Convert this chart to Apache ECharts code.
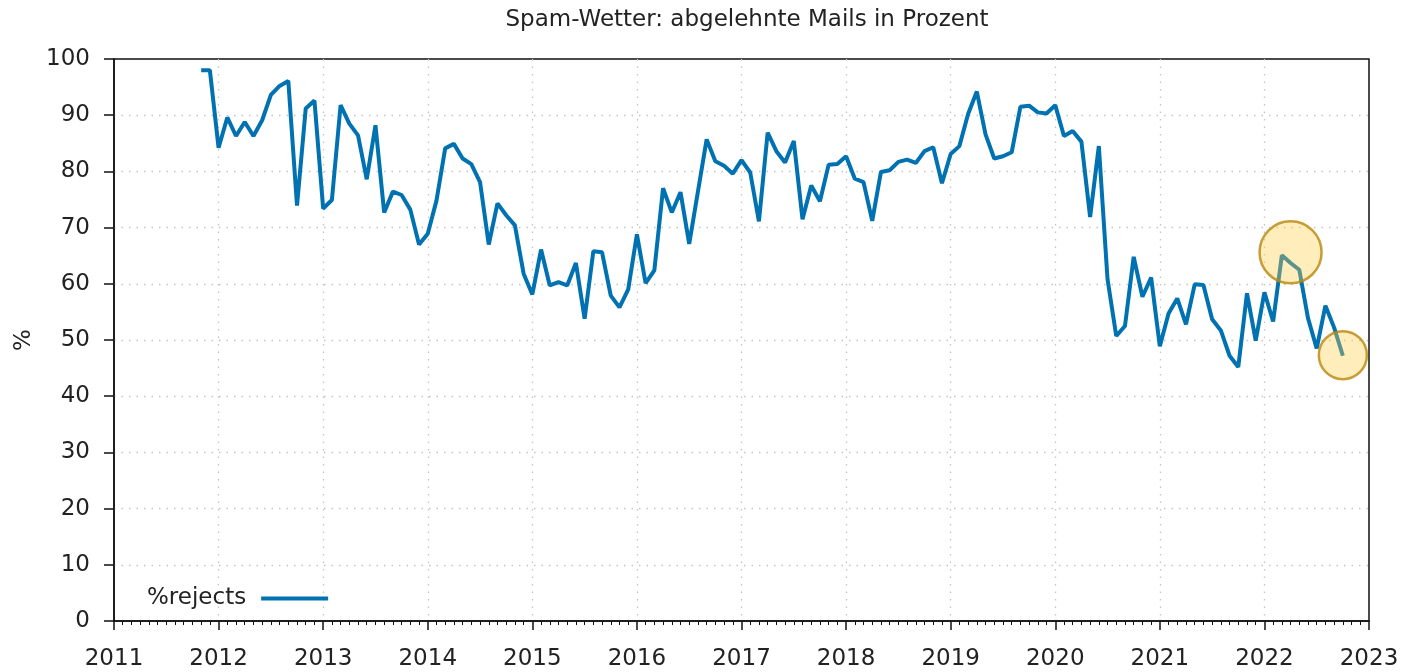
<!DOCTYPE html>
<html>
<head>
<meta charset="utf-8">
<script src="https://cdn.jsdelivr.net/npm/echarts@6/dist/echarts.min.js"></script>
<style>
  html, body { margin: 0; padding: 0; background: #fff; }
  #chart { width: 1404px; height: 672px; }
</style>
</head>
<body>
<div id="chart"></div>
<script>
// ---- data ----
const chartTitle = 'Spam-Wetter: abgelehnte Mails in Prozent';
const seriesName = '%rejects';
const yAxisName = '%';
const firstYear = 2011;
const firstMonth = 11; // November 2011
// monthly rejection percentages, Nov 2011 .. Oct 2022
const rejects = [
  98.0, 98.0,
  84.2, 89.6, 86.3, 88.8, 86.3, 89.1, 93.6, 95.2, 96.1, 73.9, 91.2, 92.6,
  73.4, 74.9, 91.8, 88.5, 86.4, 78.6, 88.2, 72.7, 76.4, 75.8, 73.2, 67.0,
  68.9, 74.8, 84.1, 84.9, 82.3, 81.3, 78.1, 67.0, 74.3, 72.2, 70.4, 61.8,
  58.1, 66.1, 59.7, 60.3, 59.7, 63.7, 53.8, 65.8, 65.6, 57.9, 55.8, 59.0,
  68.8, 60.1, 62.4, 77.0, 72.7, 76.3, 67.1, 76.4, 85.7, 81.8, 81.0, 79.6,
  82.0, 79.8, 71.1, 86.9, 83.6, 81.6, 85.4, 71.5, 77.5, 74.7, 81.2, 81.3,
  82.7, 78.7, 78.1, 71.2, 79.9, 80.2, 81.7, 82.1, 81.5, 83.6, 84.3, 77.9,
  83.1, 84.5, 90.2, 94.2, 86.6, 82.3, 82.7, 83.4, 91.5, 91.7, 90.5, 90.3,
  91.8, 86.3, 87.2, 85.3, 71.9, 84.5, 60.8, 50.7, 52.5, 64.8, 57.7, 61.1,
  48.9, 54.7, 57.4, 52.8, 59.9, 59.8, 53.7, 51.7, 47.2, 45.2, 58.3, 49.9,
  58.5, 53.3, 65.1, 63.7, 62.5, 53.9, 48.5, 56.1, 52.2, 47.2
];
// highlighted spots (year, month, value)
const highlightYears  = [2022, 2022];
const highlightMonths = [4, 10];
const highlightValues = [65.6, 47.3];
const yearTicks = [2011, 2012, 2013, 2014, 2015, 2016, 2017, 2018, 2019, 2020, 2021, 2022, 2023];

// ---- build ----
const FONT = 'DejaVu Sans';
const FS = 23;
const lineData = rejects.map((v, i) => {
  const idx = (firstMonth - 1) + i;
  const y = firstYear + Math.floor(idx / 12);
  const m = idx % 12;
  return [y + m / 12, v];
});
const highlightSizes = [62, 48];
const highlightData = highlightValues.map((v, i) => ({
  value: [highlightYears[i] + (highlightMonths[i] - 1) / 12, v],
  symbolSize: highlightSizes[i]
}));

const gridLine = { show: true, showMinLine: false, showMaxLine: false,
  lineStyle: { color: '#c4c4c4', width: 1.3, type: [1.5, 6] } };

const chart = echarts.init(document.getElementById('chart'), null, { renderer: 'canvas' });
chart.setOption({
  animation: false,
  backgroundColor: '#fff',
  title: {
    text: chartTitle,
    left: 742, top: 4, textAlign: 'center',
    textStyle: { fontFamily: FONT, fontSize: FS, fontWeight: 'normal', color: '#222' }
  },
  legend: {
    data: [seriesName],
    left: 147, top: 587, padding: 0,
    align: 'right',
    icon: 'rect',
    itemWidth: 67, itemHeight: 3.8,
    textStyle: { fontFamily: FONT, fontSize: FS, color: '#222', padding: [0, 10, 0, 0] }
  },
  grid: {
    left: 114, right: 35, top: 59, bottom: 51,
    show: true, borderColor: '#111', borderWidth: 1.5
  },
  xAxis: {
    type: 'value', min: yearTicks[0], max: yearTicks[yearTicks.length - 1], interval: 1,
    axisLine: { show: true, onZero: false, lineStyle: { color: '#111', width: 1.5 } },
    axisTick: { show: true, length: 9, lineStyle: { color: '#111', width: 1.5 } },
    minorTick: { show: true, splitNumber: 12, length: 4, lineStyle: { color: '#111', width: 1 } },
    axisLabel: { margin: 27, fontFamily: FONT, fontSize: FS, color: '#222', formatter: v => String(v) },
    splitLine: gridLine
  },
  yAxis: {
    type: 'value', min: 0, max: 100, interval: 10,
    name: yAxisName, nameLocation: 'middle', nameGap: 77, nameRotate: 90,
    nameTextStyle: { fontFamily: FONT, fontSize: FS, color: '#222' },
    axisLine: { show: true, lineStyle: { color: '#111', width: 1.5 } },
    axisTick: { show: true, length: 10, lineStyle: { color: '#111', width: 1.5 } },
    axisLabel: { margin: 24, fontFamily: FONT, fontSize: FS, color: '#222' },
    splitLine: gridLine
  },
  series: [
    {
      name: seriesName, type: 'line', data: lineData,
      showSymbol: false, color: '#0072B2',
      lineStyle: { color: '#0072B2', width: 4 },
      z: 2
    },
    {
      name: 'highlight', type: 'scatter', data: highlightData,
      symbol: 'circle',
      itemStyle: { color: 'rgba(255, 208, 70, 0.45)', borderColor: '#B8860B', borderWidth: 2.5 },
      z: 5, silent: true
    }
  ]
});
</script>
</body>
</html>
